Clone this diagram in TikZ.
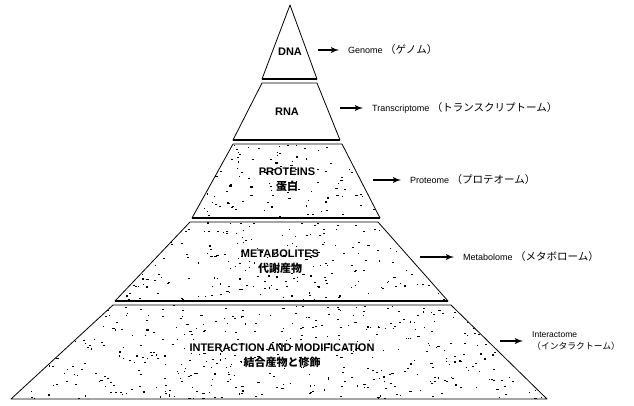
\documentclass[tikz,border=0pt]{standalone}
\usepackage{fontspec}
\setmainfont{Liberation Sans}
\newfontfamily\jpfont{Noto Sans CJK JP}
\newcommand\jptext[1]{{\jpfont\fontsize{10.5}{13}\selectfont #1}}
\usepackage{tikz}
\usetikzlibrary{arrows}

\begin{document}
\begin{tikzpicture}[x=1pt,y=-1pt,
  tier/.style={draw=black,line width=0.8pt,line join=round},
  sep/.style={line width=1.6pt},
  lbl/.style={font=\fontsize{11}{15}\selectfont\bfseries,align=center,inner sep=0pt},
  omic/.style={font=\fontsize{9}{12}\selectfont,anchor=west,inner sep=0pt,align=left},
  arr/.style={-latex',line width=1.8pt,shorten >=9pt}]
\useasboundingbox (0,0) rectangle (634,405);
\pgfmathsetseed{42}

% speckles
\begin{scope}
\clip (233,144) -- (342,144) -- (380,218) -- (192,218) -- cycle;
\foreach \i in {1,...,140}{
  \pgfmathsetmacro\px{192+188*rnd}
  \pgfmathsetmacro\py{144+74*rnd}
  \pgfmathsetmacro\pw{0.8+1.6*rnd}
  \fill (\px,\py) rectangle ++(\pw,1.1);
}
\end{scope}
\begin{scope}
\clip (190,222) -- (378,222) -- (448,301) -- (115,301) -- cycle;
\foreach \i in {1,...,260}{
  \pgfmathsetmacro\px{115+333*rnd}
  \pgfmathsetmacro\py{222+79*rnd}
  \pgfmathsetmacro\pw{0.8+1.6*rnd}
  \fill (\px,\py) rectangle ++(\pw,1.1);
}
\end{scope}
\begin{scope}
\clip (113,305) -- (451,305) -- (547,399) -- (11,399) -- cycle;
\foreach \i in {1,...,520}{
  \pgfmathsetmacro\px{11+536*rnd}
  \pgfmathsetmacro\py{305+94*rnd}
  \pgfmathsetmacro\pw{0.8+1.6*rnd}
  \fill (\px,\py) rectangle ++(\pw,1.1);
}
\end{scope}

% tiers
\draw[tier] (290,5) -- (317,79) -- (262,79) -- cycle;
\draw[tier] (262,83) -- (317,83) -- (340,140) -- (233,140) -- cycle;
\draw[tier] (233,144) -- (342,144) -- (380,218) -- (192,218) -- cycle;
\draw[tier] (190,222) -- (378,222) -- (448,301) -- (115,301) -- cycle;
\draw[tier] (113,305) -- (451,305) -- (547,399) -- (11,399) -- cycle;
\draw[sep] (262,79) -- (317,79);
\draw[sep] (233,140) -- (340,140);
\draw[sep] (192,218) -- (380,218);
\draw[sep] (115,301) -- (448,301);

% labels
\node[lbl] (dna) at (290,52) {DNA};
\node[lbl] (rna) at (287,112) {RNA};
\node[lbl] (prot) at (287,180) {PROTEINS\\{\jpfont 蛋白}};
\node[lbl] (meta) at (280,262) {METABOLITES\\{\jpfont 代謝産物}};
\node[lbl] (inter) at (282,356) {INTERACTION AND MODIFICATION\\{\jpfont 結合産物と修飾}};

\node[omic] (genome) at (348,50) {Genome\ \jptext{（ゲノム）}};
\node[omic] (transcr) at (372,108) {Transcriptome\ \jptext{（トランスクリプトーム）}};
\node[omic] (proteome) at (410,180) {Proteome\ \jptext{（プロテオーム）}};
\node[omic] (metabolome) at (463,257) {Metabolome\ \jptext{（メタボローム）}};
\node[omic,font=\fontsize{8.5}{12}\selectfont] (interactome) at (532,341)
  {Interactome\\{\jpfont\fontsize{8.8}{12}\selectfont （インタラクトーム）}};

% arrows
\coordinate (ga) at (318,50);
\coordinate (ta) at (340,108);
\coordinate (pa) at (373,180);
\coordinate (ma) at (420,257);
\coordinate (ia) at (500,341);
\draw[arr] (ga) -- (genome.west);
\draw[arr] (ta) -- (transcr.west);
\draw[arr] (pa) -- (proteome.west);
\draw[arr] (ma) -- (metabolome.west);
\draw[arr] (ia) -- (interactome.west);
\end{tikzpicture}
\end{document}
